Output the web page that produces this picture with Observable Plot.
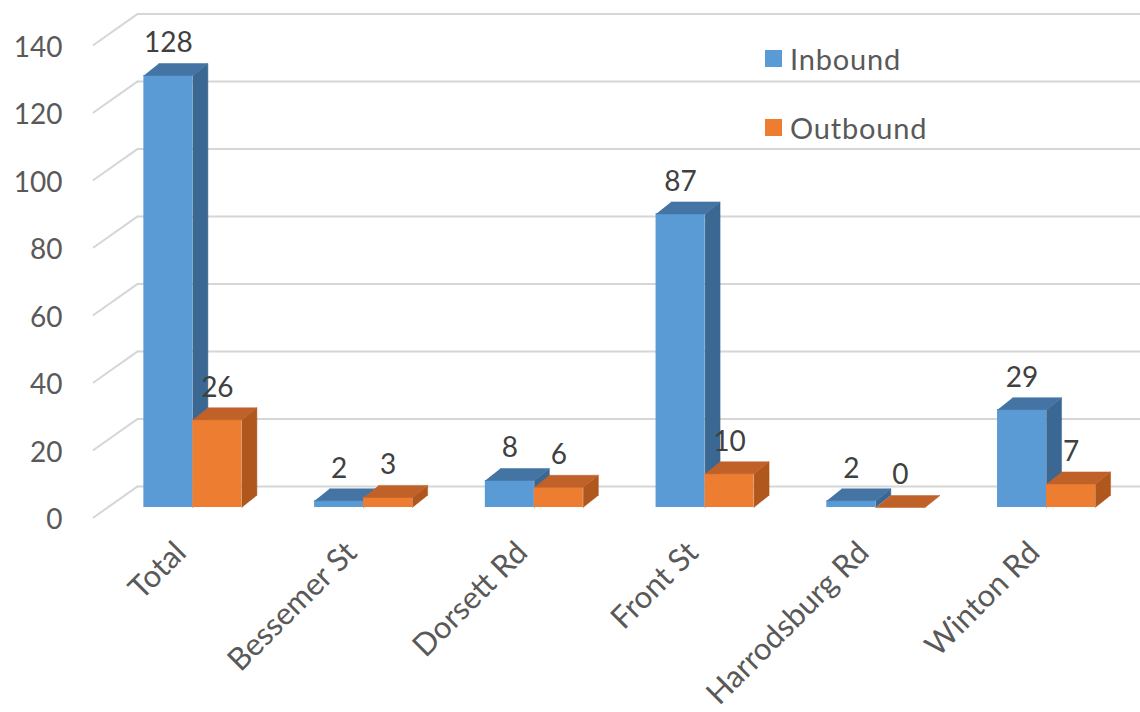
<!DOCTYPE html>
<html><head><meta charset="utf-8">
<script src="https://cdn.jsdelivr.net/npm/d3@7"></script>
<script src="https://cdn.jsdelivr.net/npm/@observablehq/plot@0.6"></script>
<style>
body{margin:0;background:#fff;}
#wrap{position:relative;width:1140px;height:712px;overflow:hidden;}
.legend{position:absolute;left:765px;top:0;font-family:Lato,"Open Sans",sans-serif;font-size:29px;letter-spacing:0.8px;color:#595959;}
.item{position:absolute;left:0;display:flex;align-items:center;white-space:nowrap;height:34px;}
.sw{width:17px;height:17px;margin-right:8px;}
</style></head><body>
<div id="wrap"></div>
<script>
// ---- data ----
const categories = ["Total","Bessemer St","Dorsett Rd","Front St","Harrodsburg Rd","Winton Rd"];
const inbound = [128, 2, 8, 87, 2, 29];
const outbound = [26, 3, 6, 10, 0, 7];
const seriesNames = ["Inbound","Outbound"];
const yTicks = [0, 20, 40, 60, 80, 100, 120, 140];

// ---- style ----
const palette = {
  Inbound:  {front:"#5B9BD5", side:"#3B6892", top:"#4474A3"},
  Outbound: {front:"#ED7D31", side:"#B0571E", top:"#C0612A"}
};
const BW = 0.287;      // bar width (category units)
const DX = 0.088;      // depth x (category units)
const DY = 3.55;       // depth y (value units)
const gridColor = "#D6D6D6";
const font = "Lato, 'Open Sans', sans-serif";

const valuesBySeries = {Inbound: inbound, Outbound: outbound};
const bars = [];
seriesNames.forEach((s, si) => {
  valuesBySeries[s].forEach((v, i) => {
    const x1 = i + (si - 1) * BW, x2 = x1 + BW;
    bars.push({series: s, cat: categories[i], i, v, x1, x2});
  });
});
function faces(s, kind) {
  const out = [];
  bars.filter(b => b.series === s).forEach(b => {
    const id = s + kind + b.i;
    const pts = kind === "side"
      ? [[b.x2, 0], [b.x2, b.v], [b.x2 + DX, b.v + DY], [b.x2 + DX, DY]]
      : [[b.x1, b.v], [b.x2, b.v], [b.x2 + DX, b.v + DY], [b.x1 + DX, b.v + DY]];
    pts.forEach(([x, y]) => out.push({id, x, y}));
  });
  return out;
}
const segShape = {draw(context, l) { context.moveTo(0, 0); context.lineTo(0, -l); }};

const marks = [
  Plot.ruleY(yTicks, {dx: 30, dy: -21, stroke: gridColor, strokeWidth: 2}),
  Plot.vector(yTicks, {y: d => d, frameAnchor: "left", dx: -14, dy: 10, length: 54, rotate: 54.8,
    anchor: "start", shape: segShape, stroke: gridColor, strokeWidth: 2}),
  Plot.text(yTicks, {y: d => d, frameAnchor: "left", text: d => String(d), textAnchor: "end",
    dx: -45, dy: 13, fontSize: 28, fill: "#595959"})
];
seriesNames.forEach(s => {
  const c = palette[s];
  marks.push(
    Plot.rect(bars.filter(b => b.series === s), {x1: "x1", x2: "x2", y1: 0, y2: "v", fill: c.front}),
    Plot.line(faces(s, "side"), {x: "x", y: "y", z: "id", fill: c.side, stroke: c.side, strokeWidth: 0.5}),
    Plot.line(faces(s, "top"), {x: "x", y: "y", z: "id", fill: c.top, stroke: c.top, strokeWidth: 0.5})
  );
});
marks.push(
  Plot.text(bars, {x: d => (d.x1 + d.x2) / 2, y: "v", text: d => String(d.v), dy: -32,
    fontSize: 28, fill: "#404040"}),
  Plot.text(categories, {x: (d, i) => i, frameAnchor: "bottom", text: d => d, rotate: -45,
    textAnchor: "end", lineAnchor: "middle", dx: -12, dy: 40, fontSize: 31, fill: "#595959"})
);

const chart = Plot.plot({
  width: 1140, height: 712,
  marginLeft: 107, marginRight: 8.6, marginTop: 34.5, marginBottom: 205,
  x: {domain: [-0.5, 5.5], axis: null},
  y: {domain: [0, 140], axis: null},
  style: {fontFamily: font, background: "#fff", overflow: "visible"},
  marks
});
const wrap = document.getElementById("wrap");
wrap.appendChild(chart);

// legend (HTML overlay)
const legend = document.createElement("div");
legend.className = "legend";
const legendTops = [41, 110];
seriesNames.forEach((s, k) => {
  const it = document.createElement("div");
  it.className = "item";
  it.style.top = legendTops[k] + "px";
  const sw = document.createElement("span");
  sw.className = "sw";
  sw.style.background = palette[s].front;
  const tx = document.createElement("span");
  tx.textContent = s;
  it.appendChild(sw); it.appendChild(tx);
  legend.appendChild(it);
});
wrap.appendChild(legend);
</script>
</body></html>
